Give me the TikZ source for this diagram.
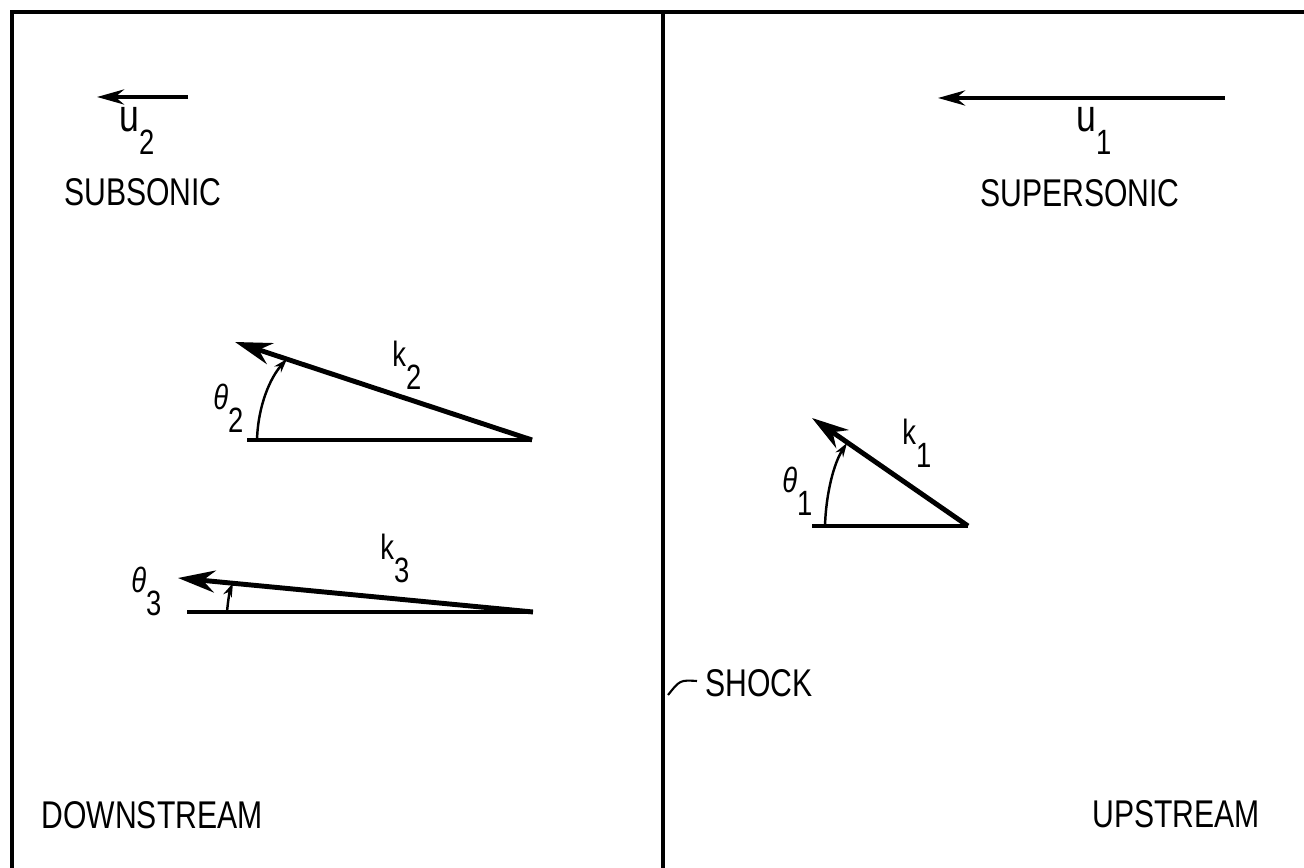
\documentclass[tikz,border=0pt]{standalone}
\usepackage{fontspec}
\setmainfont{Liberation Sans}[FakeStretch=0.78]
\usetikzlibrary{arrows.meta}

\newcommand{\lowsub}[1]{\raisebox{-0.65em}{#1}}

\tikzset{
    frameline/.style={line width=1.8pt},
    flowvec/.style={line width=2.4pt, -{Stealth[length=0.54cm,width=0.3cm]}},
    wavevec/.style={line width=2.8pt, -{Stealth[length=0.74cm,width=0.44cm]}},
    baseline/.style={line width=2pt},
    anglearc/.style={line width=1.4pt, -{Stealth[length=0.28cm,width=0.18cm]}},
    captext/.style={font=\fontsize{22}{24}\selectfont, inner sep=0pt},
    veclabel/.style={font=\fontsize{20}{20}\selectfont, anchor=base west, inner sep=0pt}
}

\begin{document}
\begin{tikzpicture}[x=0.02cm, y=0.02cm]
    \useasboundingbox (0,0) rectangle (1304,868);

    % Draw the frame and the shock
    \draw[frameline] (1320,856) -- (12,856) -- (12,-10);
    \coordinate (shocktop) at (663,856);
    \coordinate (shockbot) at (663,-10);
    \draw[line width=2.2pt] (shocktop) -- (shockbot);

    % Flow velocities
    \coordinate (u2tail) at (188,771);
    \coordinate (u2tip) at (97,771);
    \draw[flowvec] (u2tail) -- (u2tip);
    \node[veclabel] (u2) at (119,736) {{\fontsize{26}{26}\selectfont u}\lowsub{2}};
    \node[captext] (subsonic) at (143,676) {SUBSONIC};

    \coordinate (u1tail) at (1225,770);
    \coordinate (u1tip) at (938,770);
    \draw[flowvec] (u1tail) -- (u1tip);
    \node[veclabel] (u1) at (1076,736) {{\fontsize{26}{26}\selectfont u}\lowsub{1}};
    \node[captext] (supersonic) at (1080,675) {SUPERSONIC};

    % Downstream wave vectors
    \coordinate (k2tail) at (532,428);
    \coordinate (k2tip) at (235,526);
    \coordinate (k2base) at (247,428);
    \coordinate (t2start) at (257,428);
    \coordinate (t2end) at (287,509);
    \draw[baseline] (k2base) -- (k2tail);
    \draw[wavevec] (k2tail) -- (k2tip);
    \draw[anglearc] (t2start) .. controls (258,462) and (270,490) .. (t2end);
    \node[veclabel] (k2) at (392,501) {k\lowsub{2}};
    \node[veclabel] (theta2) at (213,458) {\textit{θ}\lowsub{2}};

    \coordinate (k3tail) at (533,256);
    \coordinate (k3tip) at (178,290);
    \coordinate (k3base) at (187,256);
    \coordinate (t3start) at (227,256);
    \coordinate (t3end) at (233,285);
    \draw[baseline] (k3base) -- (k3tail);
    \draw[wavevec] (k3tail) -- (k3tip);
    \draw[anglearc] (t3start) .. controls (228,268) and (230,278) .. (t3end);
    \node[veclabel] (k3) at (380,308) {k\lowsub{3}};
    \node[veclabel] (theta3) at (131,275) {\textit{θ}\lowsub{3}};

    % Upstream wave vector
    \coordinate (k1tail) at (968,342);
    \coordinate (k1tip) at (812,450);
    \coordinate (k1base) at (812,342);
    \coordinate (t1start) at (825,342);
    \coordinate (t1end) at (847,425);
    \draw[baseline] (k1base) -- (k1tail);
    \draw[wavevec] (k1tail) -- (k1tip);
    \draw[anglearc] (t1start) .. controls (826,375) and (834,405) .. (t1end);
    \node[veclabel] (k1) at (902,423) {k\lowsub{1}};
    \node[veclabel] (theta1) at (782,375) {\textit{θ}\lowsub{1}};

    % Region labels
    \node[captext, anchor=west] (shock) at (705,185) {SHOCK};
    \coordinate (shockfoot) at (668,173);
    \draw[line width=1.2pt] (shock.west) ++(-8,2) coordinate (leadstart)
        .. controls (680,188) .. (shockfoot);
    \node[captext] (downstream) at (152,53) {DOWNSTREAM};
    \node[captext] (upstream) at (1176,54) {UPSTREAM};

\end{tikzpicture}
\end{document}
